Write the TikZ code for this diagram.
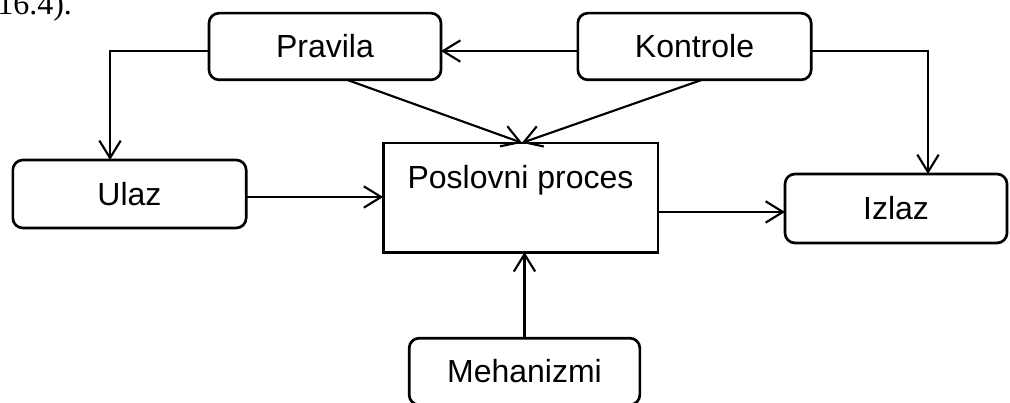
\documentclass[tikz,border=0pt]{standalone}
\usepackage{fontspec}
\setmainfont{Liberation Sans}
\newfontfamily\serifcap{Liberation Serif}
\usetikzlibrary{arrows.meta}
\begin{document}
\begin{tikzpicture}[x=0.75pt,y=-0.75pt,
  box/.style={draw,line width=2pt,rounded corners=7.5pt,inner sep=0pt,outer sep=0pt,
    font=\fontsize{24}{28}\selectfont},
  procbox/.style={draw,line width=2pt,inner sep=0pt,outer sep=0pt},
  lbl/.style={inner sep=0pt,font=\fontsize{24}{28}\selectfont},
  arr/.style={line width=1.6pt,-{Straight Barb[length=13pt,width=16pt,line width=1.6pt]}}]
\useasboundingbox (0,0) rectangle (1010,403);
\clip (0,0) rectangle (1010,403);
\fill[white] (0,0) rectangle (1010,403);
\node[anchor=base west,inner sep=0pt,font=\serifcap\fontsize{24}{28}\selectfont] (cap) at (-3,15) {16.4).};
\node[box,minimum width=174pt,minimum height=50pt] (pr) at (325,46.5) {Pravila};
\node[box,minimum width=175pt,minimum height=50pt] (ko) at (694.5,46.5) {Kontrole};
\node[box,minimum width=175pt,minimum height=51pt] (ul) at (129.5,194) {Ulaz};
\node[procbox,minimum width=206pt,minimum height=82pt] (pp) at (520.5,197.5) {};
\node[lbl] (ppt) at (520.5,180) {Poslovni proces};
\node[box,minimum width=166.5pt,minimum height=51.75pt] (iz) at (896,208.5) {Izlaz};
\node[box,minimum width=173pt,minimum height=50pt] (me) at (524.5,371.5) {Mehanizmi};
% connectors
\draw[arr] ([yshift=-3.4pt]ko.west) -- ([yshift=-3.4pt]pr.east);
\draw[arr] ([yshift=-3.4pt]pr.west) -| ([xshift=-14.6pt]ul.north);
\draw[arr] ([yshift=-3.4pt]ko.east) -| ([xshift=24pt]iz.north);
\draw[arr] ([xshift=16.5pt]pr.south) -- ([xshift=1.1pt]pp.north);
\draw[arr] ([xshift=5.6pt]ko.south) -- ([xshift=1.1pt]pp.north);
\coordinate (u1) at ([yshift=-2.25pt]ul.east);
\draw[arr] (u1) -- (u1 -| pp.west);
\coordinate (i1) at ([yshift=-2.6pt]iz.west);
\draw[arr] (i1 -| pp.east) -- (i1);
\draw[arr] (me.north) -- (me.north |- pp.south);
\end{tikzpicture}
\end{document}
